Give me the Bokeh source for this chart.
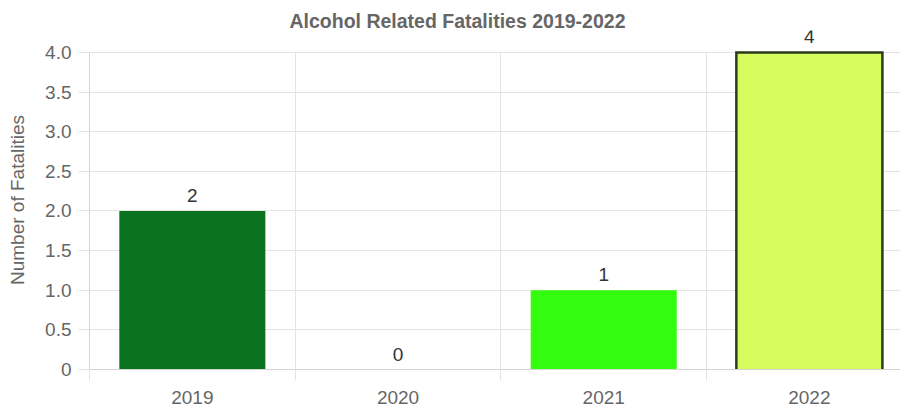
from bokeh.plotting import figure
from bokeh.models import ColumnDataSource, FixedTicker, Range1d, LabelSet
from bokeh.core.properties import value
from bokeh.embed import file_html
from bokeh.resources import INLINE

years = ["2019", "2020", "2021", "2022"]
fatalities = [2, 0, 1, 4]
bar_colors = ["#0b731f", "#0b731f", "#33fc0f", "#d5fb5d"]
bar_lines = [None, None, None, "#2b3a1c"]
y_ticks = [0, 0.5, 1.0, 1.5, 2.0, 2.5, 3.0, 3.5, 4.0]
y_tick_labels = ["0", "0.5", "1.0", "1.5", "2.0", "2.5", "3.0", "3.5", "4.0"]
title_text = "Alcohol Related Fatalities 2019-2022"
y_title = "Number of Fatalities"

idx = list(range(len(years)))
BAR_W = 0.71
source = ColumnDataSource(dict(
    x=idx, top=fatalities, color=bar_colors,
    label=[str(v) for v in fatalities],
))
# border outlines (left, top, right sides only), derived from the data
bx, by, bc = [], [], []
for i, t, c in zip(idx, fatalities, bar_lines):
    if c:
        bx.append([i - BAR_W / 2, i - BAR_W / 2, i + BAR_W / 2, i + BAR_W / 2])
        by.append([0, t, t, 0])
        bc.append(c)
border_src = ColumnDataSource(dict(xs=bx, ys=by, color=bc))

FONT = "Liberation Sans"
GRID = "#e4e4e4"
FS = "19px"
Y_MAX = max(y_ticks)

p = figure(width=900, height=408, output_backend="svg", toolbar_location=None,
           x_range=Range1d(-0.5, 3.443), y_range=Range1d(0, 4.2776),
           min_border_left=89, min_border_right=0, min_border_top=30, min_border_bottom=39)
p.outline_line_color = None
p.background_fill_color = "white"
p.border_fill_color = "white"

p.vbar(x="x", top="top", width=BAR_W, source=source, fill_color="color",
       line_color=None)
p.multi_line(xs="xs", ys="ys", line_color="color", line_width=2.5, source=border_src,
             line_join="miter")

labels = LabelSet(x="x", y="top", text="label", source=source, y_offset=9,
                  text_align="center", text_baseline="bottom", text_color="#333333",
                  text_font=value(FONT), text_font_size=value(FS))
p.add_layout(labels)

# title
p.title.text = title_text
p.title.align = "left"
p.title.offset = 200
p.title.text_font = FONT
p.title.text_font_size = "19.5px"
p.title.text_font_style = "bold"
p.title.text_color = "#666666"
p.title.standoff = -3

# x axis
boundaries = [i - 0.5 for i in idx] + [idx[-1] + 0.5]
xt = FixedTicker(ticks=idx, minor_ticks=boundaries)
p.xaxis.ticker = xt
p.xaxis.major_label_overrides = {i: y for i, y in zip(idx, years)}
p.xaxis.major_tick_line_color = None
p.xaxis.major_tick_out = 0
p.xaxis.major_tick_in = 0
p.xaxis.minor_tick_out = 11
p.xaxis.minor_tick_in = 0
p.xaxis.minor_tick_line_color = GRID
p.xaxis.axis_line_color = "#d4d4d4"
p.xaxis.major_label_standoff = 10
p.xaxis.major_label_text_font = FONT
p.xaxis.major_label_text_font_size = FS
p.xaxis.major_label_text_color = "#666666"

p.xgrid.ticker = FixedTicker(ticks=boundaries)
p.xgrid.grid_line_color = GRID
p.xgrid.cross_bounds = (0, Y_MAX)

# y axis
p.yaxis.ticker = FixedTicker(ticks=y_ticks)
p.yaxis.bounds = (0, Y_MAX)
p.yaxis.major_label_overrides = {t: l for t, l in zip(y_ticks, y_tick_labels)}
p.yaxis.major_tick_out = 11
p.yaxis.major_tick_in = 0
p.yaxis.major_tick_line_color = GRID
p.yaxis.minor_tick_line_color = None
p.yaxis.axis_line_color = "#d4d4d4"
p.yaxis.major_label_standoff = 7
p.yaxis.major_label_text_font = FONT
p.yaxis.major_label_text_font_size = FS
p.yaxis.major_label_text_color = "#666666"
p.yaxis.axis_label = y_title
p.yaxis.axis_label_text_font = FONT
p.yaxis.axis_label_text_font_size = FS
p.yaxis.axis_label_text_font_style = "normal"
p.yaxis.axis_label_text_color = "#666666"
p.yaxis.axis_label_standoff = 14

p.ygrid.ticker = FixedTicker(ticks=y_ticks)
p.ygrid.grid_line_color = GRID

open("out.html", "w").write(file_html(p, INLINE))
